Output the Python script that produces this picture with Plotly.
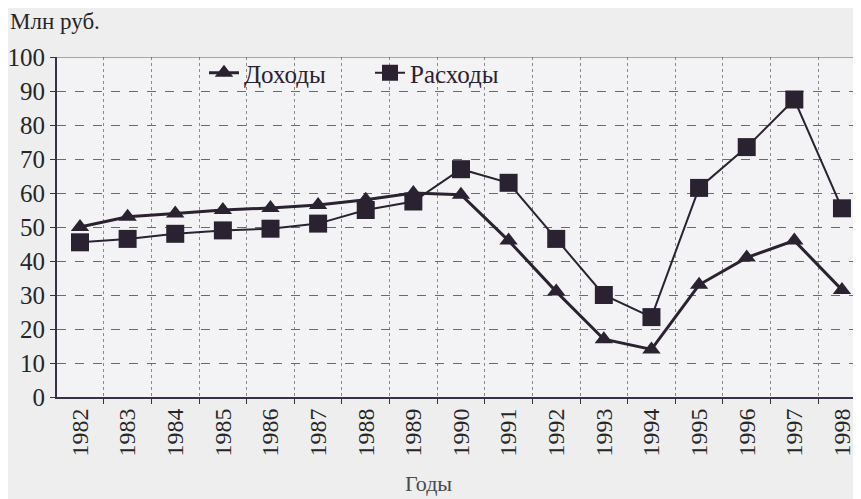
import plotly.graph_objects as go

years = [1982, 1983, 1984, 1985, 1986, 1987, 1988, 1989, 1990,
         1991, 1992, 1993, 1994, 1995, 1996, 1997, 1998]
dokhody = [50, 53, 54, 55, 55.6, 56.5, 58, 60, 59.5,
           46, 31, 17, 14, 33, 41, 46, 31.5]
raskhody = [45.5, 46.5, 48, 49, 49.5, 51, 55, 57.5, 67,
            63, 46.5, 30, 23.5, 61.5, 73.5, 87.5, 55.5]
y_ticks = [0, 10, 20, 30, 40, 50, 60, 70, 80, 90, 100]

ink = "#2a2230"
axis_col = "#3a2f48"
font_family = "Liberation Serif"
txt = "#262626"

fig = go.Figure()
fig.add_trace(go.Scatter(
    x=years, y=dokhody, name="Доходы", mode="lines+markers",
    line=dict(color=ink, width=3),
    marker=dict(symbol="triangle-up", size=16, color=ink),
    legend="legend",
))
fig.add_trace(go.Scatter(
    x=years, y=raskhody, name="Расходы", mode="lines+markers",
    line=dict(color=ink, width=2),
    marker=dict(symbol="square", size=18, color=ink),
    legend="legend2",
))

legend_common = dict(
    orientation="h", xanchor="left", yanchor="middle",
    bgcolor="rgba(0,0,0,0)", font=dict(size=25, family=font_family, color=ink),
)

fig.update_layout(
    width=861, height=499,
    margin=dict(l=49, r=8, t=49, b=110, autoexpand=False),
    paper_bgcolor="#eeeeef",
    plot_bgcolor="#f3f3f5",
    font=dict(family=font_family, color=txt, size=24),
    showlegend=True,
    legend=dict(x=(204-57)/804, y=(397-73)/340, **legend_common),
    legend2=dict(x=(370-57)/804, y=(397-73)/340, **legend_common),
    xaxis=dict(
        range=[1981.517, 1998.4], automargin=False,
        tickvals=years, ticktext=[str(y) for y in years],
        tickangle=-90, showgrid=False, ticks="",
        tickfont=dict(size=24, family=font_family, color=txt),
        showline=True, linecolor=axis_col, linewidth=2,
        zeroline=False,
        minor=dict(tick0=1981.5, dtick=1, showgrid=True, gridcolor="#8a8a8a",
                   griddash="dot", gridwidth=1, ticks="outside", ticklen=5,
                   tickcolor=axis_col),
    ),
    yaxis=dict(
        range=[0, 100], tickvals=y_ticks, automargin=False,
        showgrid=True, gridcolor="#6a6a6a", griddash="dash", gridwidth=1,
        ticks="outside", ticklen=5, tickcolor=axis_col,
        tickfont=dict(size=25, family=font_family, color=txt),
        showline=True, linecolor=axis_col, linewidth=2,
        zeroline=False, mirror=False,
    ),
)

fig.add_shape(type="line", xref="paper", yref="y", x0=0, x1=1, y0=100, y1=100,
              line=dict(color="#5a5a5a", width=1))

fig.add_annotation(text="Млн руб.", xref="paper", yref="paper",
                   x=(8-57)/804, y=(397-22)/340, xanchor="left", yanchor="middle",
                   showarrow=False, font=dict(size=23, family=font_family, color=txt))
fig.add_annotation(text="Годы", xref="paper", yref="paper",
                   x=(428-57)/804, y=(397-483)/340, xanchor="center", yanchor="middle",
                   showarrow=False, font=dict(size=22, family=font_family, color="#4a4a4a"))

fig.write_html("out.html")
